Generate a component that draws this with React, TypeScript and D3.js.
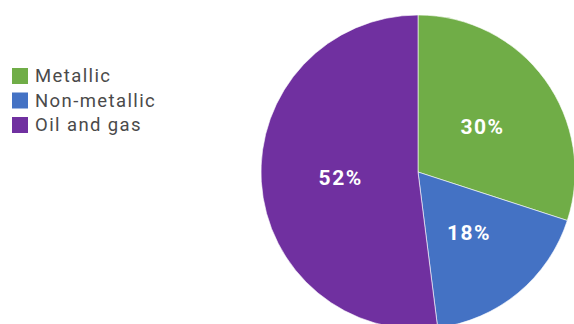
import React from "react";
import * as d3 from "d3";

const categories = ["Metallic", "Non-metallic", "Oil and gas"];
const values = [30, 18, 52];
const colors = ["#70AD47", "#4472C4", "#7030A0"];

const W = 574;
const H = 324;

export default function App() {
  const cx = 418;
  const cy = 172;
  const r = 157;
  const pie = d3.pie<number>().sort(null).value((d) => d);
  const arcs = pie(values);
  const arc = d3.arc<d3.PieArcDatum<number>>().innerRadius(0).outerRadius(r);
  const labelArc = d3.arc<d3.PieArcDatum<number>>().innerRadius(r * 0.5).outerRadius(r * 0.5);
  const total = d3.sum(values);
  return (
    <svg
      width={W}
      height={H}
      style={{ position: "fixed", left: 0, top: 0, background: "#fff" }}
      fontFamily="Roboto, sans-serif"
    >
      <g transform={`translate(${cx},${cy})`}>
        {arcs.map((a, i) => (
          <path key={i} d={arc(a) || ""} fill={colors[i]} stroke="#fff" strokeWidth={0.6} />
        ))}
        {arcs.map((a, i) => {
          const [x, y] = labelArc.centroid(a);
          return (
            <text
              key={"t" + i}
              x={x + 1}
              y={y + 1}
              textAnchor="middle"
              dominantBaseline="central"
              fill="#fff"
              fontWeight="bold"
              fontSize={21}
              letterSpacing={1.5}
            >
              {Math.round((values[i] / total) * 100)}%
            </text>
          );
        })}
      </g>
      <g>
        {categories.map((c, i) => (
          <g key={c} transform={`translate(12,${76 + i * 24.5})`}>
            <rect x={0} y={-8} width={16} height={16} fill={colors[i]} />
            <text
              x={23}
              y={0}
              dominantBaseline="central"
              fontSize={18.5}
              letterSpacing={1.4}
              fill="#4a4a4a"
            >
              {c}
            </text>
          </g>
        ))}
      </g>
    </svg>
  );
}
